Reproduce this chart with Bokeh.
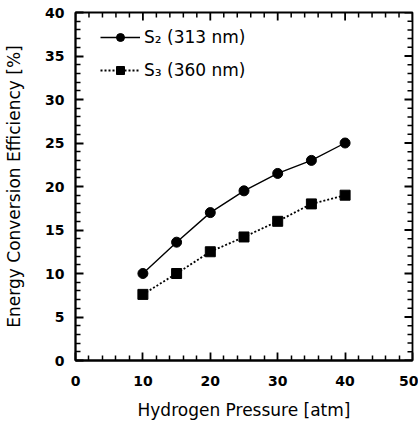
import math
from bokeh.plotting import figure
from bokeh.models import Range1d, FixedTicker, Legend, LegendItem
from bokeh.embed import file_html
from bokeh.resources import INLINE

pressure = [10, 15, 20, 25, 30, 35, 40]
s2_eff = [10.0, 13.6, 17.0, 19.5, 21.5, 23.0, 25.0]
s3_eff = [7.6, 10.0, 12.5, 14.2, 16.0, 18.0, 19.0]
s2_label = "S\u2082 (313 nm)"
s3_label = "S\u2083 (360 nm)"
x_ticks = [0, 10, 20, 30, 40, 50]
y_ticks = [0, 5, 10, 15, 20, 25, 30, 35, 40]
x_minor = [2, 4, 6, 8, 12, 14, 16, 18, 22, 24, 26, 28, 32, 34, 36, 38, 42, 44, 46, 48]
y_minor = [v for v in range(0, 41) if v % 5 != 0]

LABEL_FONT = "DejaVu Sans"
TICK_FONT = "DejaVu Sans"
MAJ, MIN = 8, 5
MAJ_W, MIN_W = 1.8, 1.5

x0, x1 = x_ticks[0], x_ticks[-1]
y0, y1 = y_ticks[0], y_ticks[-1]

p = figure(width=418, height=421, output_backend="svg", toolbar_location=None,
           x_range=Range1d(x0, x1), y_range=Range1d(y0, y1),
           x_axis_label="Hydrogen Pressure [atm]",
           y_axis_label="Energy Conversion Efficiency [%]")
p.min_border_left = 75
p.min_border_right = 6
p.min_border_top = 12
p.min_border_bottom = 0
p.frame_width = 337
p.frame_height = 348
p.grid.visible = False
p.outline_line_color = "black"
p.outline_line_width = 1.8
p.background_fill_color = "white"
p.border_fill_color = "white"

for ax, ticks, minor in ((p.xaxis[0], x_ticks, x_minor), (p.yaxis[0], y_ticks, y_minor)):
    ax.ticker = FixedTicker(ticks=ticks, minor_ticks=minor)
    ax.major_tick_in = MAJ
    ax.major_tick_out = 0
    ax.minor_tick_in = MIN
    ax.minor_tick_out = 0
    ax.major_tick_line_color = "black"
    ax.minor_tick_line_color = "black"
    ax.major_tick_line_width = MAJ_W
    ax.minor_tick_line_width = MIN_W
    ax.axis_line_color = "black"
    ax.axis_line_width = 1.8
    ax.major_label_text_font = TICK_FONT
    ax.major_label_text_font_style = "bold"
    ax.major_label_text_font_size = "14px"
    ax.major_label_text_color = "black"
    ax.axis_label_text_font = LABEL_FONT
    ax.axis_label_text_font_style = "normal"
    ax.axis_label_text_font_size = "17px"
    ax.axis_label_text_color = "black"

p.xaxis[0].major_label_standoff = 15
p.xaxis[0].axis_label_standoff = 11
p.yaxis[0].major_label_standoff = 11
p.yaxis[0].axis_label_standoff = 18

# mirrored inward ticks on the top and right edges
def ticks_ray(xs, ys, ang, length, width):
    p.ray(x=xs, y=ys, length=length, length_units="screen", angle=ang,
          line_color="black", line_width=width)

down, leftward = -math.pi / 2, math.pi
ticks_ray(x_ticks, [y1] * len(x_ticks), down, MAJ, MAJ_W)
ticks_ray(x_minor, [y1] * len(x_minor), down, MIN, MIN_W)
ticks_ray([x1] * len(y_ticks), y_ticks, leftward, MAJ, MAJ_W)
ticks_ray([x1] * len(y_minor), y_minor, leftward, MIN, MIN_W)

l2 = p.line(pressure, s2_eff, line_color="black", line_width=1.4)
m2 = p.scatter(pressure, s2_eff, marker="circle", size=10, fill_color="black", line_color="black")
l3 = p.line(pressure, s3_eff, line_color="black", line_width=1.8, line_dash="2 2")
m3 = p.scatter(pressure, s3_eff, marker="square", size=10, fill_color="black", line_color="black")

legend = Legend(items=[LegendItem(label=s2_label, renderers=[l2, m2]),
                       LegendItem(label=s3_label, renderers=[l3, m3])],
                location=(25, 280))
legend.border_line_color = None
legend.background_fill_alpha = 0
legend.padding = 0
legend.margin = 0
legend.glyph_width = 40
legend.glyph_height = 20
legend.label_height = 20
legend.spacing = 13
legend.label_standoff = 4
legend.label_text_font = LABEL_FONT
legend.label_text_font_size = "17px"
legend.label_text_color = "black"
p.add_layout(legend, "center")

open("out.html", "w").write(file_html(p, INLINE))
